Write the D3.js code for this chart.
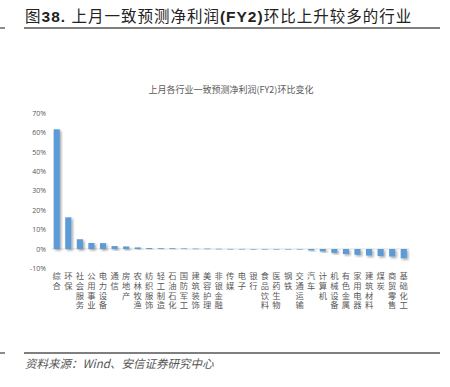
<!DOCTYPE html>
<html><head><meta charset="utf-8">
<script src="https://cdn.jsdelivr.net/npm/d3@7"></script>
<style>
body{margin:0;background:#fff;}
svg{display:block;font-family:"Noto Sans CJK SC","Noto Sans",sans-serif;}
</style></head>
<body><svg id="c" width="450" height="387"></svg>
<script>
const categories = ["综合","环保","社会服务","公用事业","电力设备","通信","房地产","农林牧渔","纺织服饰","轻工制造","石油石化","国防军工","建筑装饰","美容护理","非银金融","传媒","电子","银行","食品饮料","医药生物","钢铁","交通运输","汽车","计算机","机械设备","有色金属","家用电器","建筑材料","煤炭","商贸零售","基础化工"];
const values = [61.6,16.3,5.0,3.1,3.0,1.5,1.3,0.8,0.5,0.4,0.4,0.3,0.2,0.2,0.1,0.05,0.03,0.0,-0.05,-0.1,-0.2,-0.3,-0.8,-1.3,-2.0,-2.6,-3.0,-3.4,-3.6,-3.9,-4.8];
const yTicks = [-10,0,10,20,30,40,50,60,70];

const svg = d3.select("#c");
const defs = svg.append("defs");
const f = defs.append("filter").attr("id","sh").attr("x","-50%").attr("y","-50%").attr("width","200%").attr("height","200%");
f.append("feDropShadow").attr("dx",1.5).attr("dy",1.5).attr("stdDeviation",0.8).attr("flood-color","#000").attr("flood-opacity",0.35);

// header
svg.append("line").attr("x1",0).attr("x2",5).attr("y1",28).attr("y2",28).attr("stroke","#666").attr("stroke-width",1.5);
svg.append("line").attr("x1",24).attr("x2",440).attr("y1",28).attr("y2",28).attr("stroke","#555").attr("stroke-width",1.5);
const t = svg.append("text").attr("x",25).attr("y",22).attr("font-size",15.5).attr("fill","#222")
  .attr("letter-spacing",1).attr("font-family","'Noto Sans CJK SC',sans-serif");
t.append("tspan").text("图");
t.append("tspan").attr("font-family","'Liberation Sans',Arial,sans-serif").attr("font-weight","bold").text("38. ");
t.append("tspan").text("上月一致预测净利润");
t.append("tspan").attr("font-family","'Liberation Sans',Arial,sans-serif").attr("font-weight","bold").text("(FY2)");
t.append("tspan").text("环比上升较多的行业");

// chart title
svg.append("text").attr("x",231).attr("y",93).attr("text-anchor","middle").attr("font-size",9).attr("fill","#595959").text("上月各行业一致预测净利润(FY2)环比变化");

const x = d3.scaleBand().domain(categories).range([51,409.5]).paddingInner(0.47).paddingOuter(0.23);
const y = d3.scaleLinear().domain([-10,70]).range([268.4,113]);

// y labels
const ya = svg.append("g").attr("transform","translate(46,0)")
  .call(d3.axisLeft(y).tickValues(yTicks).tickFormat(d=>d+"%").tickSize(0).tickPadding(0));
ya.select(".domain").remove();
ya.selectAll("text").attr("font-size",7).attr("fill","#595959").attr("font-family","'Open Sans','Liberation Sans',sans-serif");

// zero line
svg.append("line").attr("x1",51).attr("x2",409.5).attr("y1",y(0)).attr("y2",y(0)).attr("stroke","#d9d9d9").attr("stroke-width",0.8);

// bars
svg.append("g").selectAll("rect").data(values).join("rect")
  .attr("x",(d,i)=>x(categories[i]))
  .attr("width",x.bandwidth())
  .attr("y",d=>y(Math.max(0,d)))
  .attr("height",d=>Math.max(0.6,Math.abs(y(d)-y(0))))
  .attr("fill","#5b9bd5")
  .attr("filter","url(#sh)");

// x labels vertical
svg.append("g").selectAll("text").data(categories).join("text")
  .attr("x",d=>x(d)+x.bandwidth()/2)
  .attr("y",272)
  .attr("font-size",8.3)
  .attr("letter-spacing",1.3)
  .attr("fill","#595959")
  .style("writing-mode","vertical-rl")
  .style("text-orientation","upright")
  .text(d=>d);

// footer
svg.append("line").attr("x1",0).attr("x2",5).attr("y1",353).attr("y2",353).attr("stroke","#666").attr("stroke-width",1.5);
svg.append("line").attr("x1",24).attr("x2",440).attr("y1",353).attr("y2",353).attr("stroke","#555").attr("stroke-width",1.5);
svg.append("text").attr("x",25).attr("y",368).attr("font-size",11.5).attr("fill","#555").attr("font-style","italic")
  .text("资料来源：Wind、安信证券研究中心");
</script></body></html>
